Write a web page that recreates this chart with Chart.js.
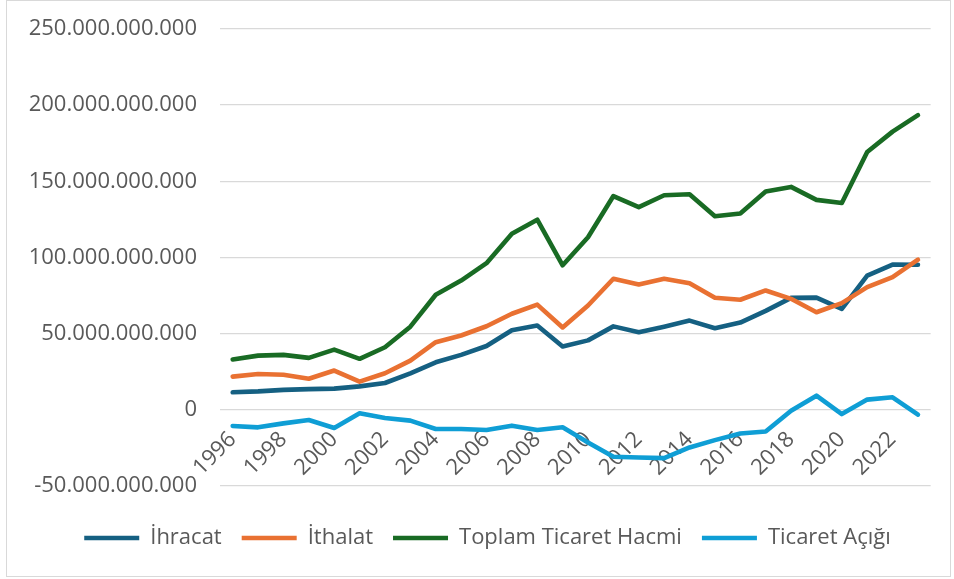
<!DOCTYPE html>
<html lang="tr">
<head>
<meta charset="UTF-8">
<title>Dış Ticaret</title>
<script src="https://cdn.jsdelivr.net/npm/chart.js@4.4.2/dist/chart.umd.min.js"></script>
<style>
  body { margin: 0; background: #fff; }
  .wrap { position: relative; width: 954px; height: 579px; }
  .frame {
    position: absolute; left: 6px; top: 0; width: 943px; height: 575px;
    border: 1px solid #d9d9d9; pointer-events: none; }
</style>
</head>
<body>
<div class="wrap">
  <canvas id="tradeChart"></canvas>
  <div class="frame"></div>
</div>

<script>
// years on the x axis
const years = ['1996','1997','1998','1999','2000','2001','2002','2003','2004','2005',
               '2006','2007','2008','2009','2010','2011','2012','2013','2014','2015',
               '2016','2017','2018','2019','2020','2021','2022','2023'];

// exports
const ihracat = [11.4e9, 12.0e9, 13.0e9, 13.5e9, 13.8e9, 15.3e9, 17.5e9, 23.9e9, 31.1e9, 36.0e9,
                 41.8e9, 52.2e9, 55.3e9, 41.5e9, 45.5e9, 54.7e9, 50.8e9, 54.5e9, 58.5e9, 53.5e9,
                 57.2e9, 64.9e9, 73.4e9, 73.6e9, 66.2e9, 88.0e9, 95.3e9, 95.2e9];

// imports
const ithalat = [21.7e9, 23.4e9, 22.9e9, 20.3e9, 25.7e9, 18.4e9, 23.9e9, 32.2e9, 44.3e9, 48.7e9,
                 54.8e9, 63.0e9, 69.0e9, 54.0e9, 68.4e9, 86.0e9, 82.2e9, 86.0e9, 83.0e9, 73.5e9,
                 72.2e9, 78.3e9, 72.8e9, 64.0e9, 70.0e9, 80.5e9, 87.0e9, 98.5e9];

// total trade volume
const toplamHacim = [33.0e9, 35.5e9, 36.0e9, 34.0e9, 39.4e9, 33.4e9, 41.0e9, 54.5e9, 75.5e9, 84.8e9,
                     96.2e9, 115.5e9, 124.8e9, 94.8e9, 113.2e9, 140.3e9, 133.0e9, 140.8e9, 141.5e9, 127.0e9,
                     128.8e9, 143.3e9, 146.3e9, 137.8e9, 135.7e9, 169.2e9, 182.6e9, 193.4e9];

// trade balance
const ticaretAcigi = [-10.7e9, -11.6e9, -9.0e9, -6.8e9, -12.0e9, -2.4e9, -5.5e9, -7.2e9, -12.7e9, -12.7e9,
                      -13.4e9, -10.5e9, -13.4e9, -11.6e9, -21.5e9, -30.9e9, -31.4e9, -31.8e9, -24.8e9, -20.0e9,
                      -15.6e9, -14.3e9, -0.7e9, 9.2e9, -2.9e9, 6.6e9, 8.1e9, -3.3e9];

const seriesNames = ['İhracat', 'İthalat', 'Toplam Ticaret Hacmi', 'Ticaret Açığı'];
const seriesColors = ['#156082', '#E97132', '#196B24', '#0F9ED5'];

// y axis range
const yMin = -50e9, yMax = 250e9, yStep = 50e9;

const fontFamily = "'Open Sans', 'Noto Sans', sans-serif";
const textGray = '#595959';

// 250000000000 -> 250.000.000.000
function dotted(v) {
    const s = Math.round(Math.abs(v)).toString().replace(/\B(?=(\d{3})+(?!\d))/g, '.');
    return (v < 0 ? '-' : '') + s;
}

function makeSet(i, values) {
    return {
        label: seriesNames[i],
        data: values,
        borderColor: seriesColors[i],
        backgroundColor: seriesColors[i],
        borderWidth: 4.6,
        borderCapStyle: 'round',
        borderJoinStyle: 'round',
        pointRadius: 0,
        tension: 0,
        order: 3 - i   // later series are drawn on top
    };
}

// nudge the legend a bit to the right of the canvas centre
const legendShift = {
    id: 'legendShift',
    afterLayout: function(chart) {
        if (chart.legend) {
            chart.legend.left += 17;
            chart.legend.right += 17;
        }
    }
};

const ctx = document.getElementById('tradeChart').getContext('2d');
const tradeChart = new Chart(ctx, {
    type: 'line',
    data: {
        labels: years,
        datasets: [makeSet(0, ihracat), makeSet(1, ithalat), makeSet(2, toplamHacim), makeSet(3, ticaretAcigi)]
    },
    plugins: [legendShift],
    options: {
        responsive: true,
        maintainAspectRatio: false,
        animation: false,
        layout: { padding: { left: 8, right: 21, top: 29, bottom: 20 } },
        scales: {
            x: {
                position: { y: 0 },
                offset: true,
                grid: { display: false, drawTicks: false },
                border: { display: false },
                ticks: {
                    autoSkip: false,
                    minRotation: 45,
                    maxRotation: 45,
                    padding: 17,
                    color: textGray,
                    font: { family: fontFamily, size: 22 },
                    callback: function(val, idx) {
                        return idx % 2 === 0 ? this.getLabelForValue(val) : '';
                    }
                }
            },
            y: {
                min: yMin,
                max: yMax,
                afterFit: function(scale) { scale.width = 212; },
                grid: { color: '#d9d9d9', lineWidth: 1.3, drawTicks: true, tickLength: 19, tickColor: 'rgba(0,0,0,0)' },
                border: { display: false },
                ticks: {
                    stepSize: yStep,
                    padding: 4,
                    color: textGray,
                    font: { family: fontFamily, size: 22 },
                    callback: function(v) { return dotted(v); }
                }
            }
        },
        plugins: {
            tooltip: { enabled: false },
            legend: {
                position: 'bottom',
                // empty title only to hold space above the items
                title: { display: true, text: ' ', font: { size: 1 }, padding: { top: 20, bottom: 0 } },
                labels: {
                    usePointStyle: true,
                    pointStyle: 'line',
                    pointStyleWidth: 55,
                    padding: 20,
                    color: textGray,
                    font: { family: fontFamily, size: 22 },
                    sort: function(a, b) { return a.datasetIndex - b.datasetIndex; }
                }
            }
        }
    }
});
</script>
</body>
</html>
